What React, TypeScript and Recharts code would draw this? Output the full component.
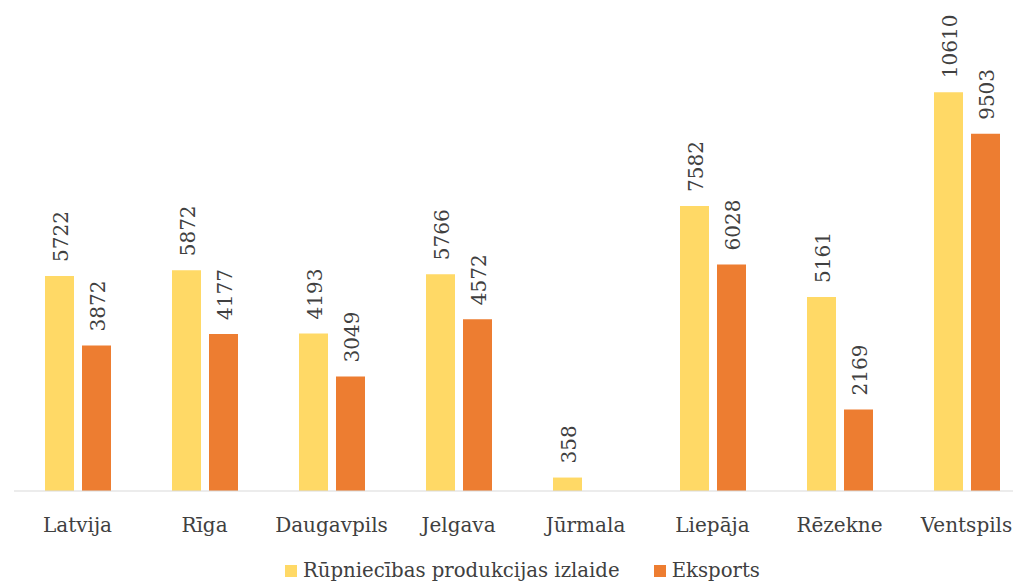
import React from "react";
import { BarChart, Bar, XAxis, YAxis, LabelList } from "recharts";

const categories = ["Latvija", "Rīga", "Daugavpils", "Jelgava", "Jūrmala", "Liepāja", "Rēzekne", "Ventspils"];
const izlaide = [5722, 5872, 4193, 5766, 358, 7582, 5161, 10610];
const eksports: (number | null)[] = [3872, 4177, 3049, 4572, null, 6028, 2169, 9503];
const seriesNames = ["Rūpniecības produkcijas izlaide", "Eksports"];
const colors = ["#FFD966", "#ED7D31"];

const data = categories.map((c, i) => ({ name: c, a: izlaide[i], b: eksports[i] }));

const FONT = "'DejaVu Serif', serif";

const RotLabel = (props: any) => {
  const { x, y, width, value } = props;
  if (value == null || value === 0) return null;
  const cx = x + width / 2 + 1;
  const sy = y - 14;
  return (
    <text
      x={cx}
      y={sy}
      transform={`rotate(-90 ${cx} ${sy})`}
      textAnchor="start"
      dy="0.36em"
      fill="#404040"
      fontSize={20}
      fontFamily={FONT}
    >
      {value}
    </text>
  );
};

export default function App() {
  return (
    <div style={{ position: "absolute", left: 0, top: 0, width: 1013, height: 582, background: "#fff", overflow: "hidden" }}>
      <BarChart
        width={1030}
        height={582}
        data={data}
        margin={{ top: 40, right: 0, left: 14, bottom: 51 }}
        barSize={29}
        barGap={8}
      >
        <XAxis
          dataKey="name"
          axisLine={{ stroke: "#D9D9D9", strokeWidth: 1 }}
          tickLine={false}
          tickSize={0}
          tickMargin={27}
          height={40}
          interval={0}
          tick={{ fill: "#404040", fontSize: 20, fontFamily: FONT }}
        />
        <YAxis hide domain={[0, 12000]} />
        <Bar dataKey="a" fill={colors[0]} isAnimationActive={false}>
          <LabelList dataKey="a" content={RotLabel} />
        </Bar>
        <Bar dataKey="b" fill={colors[1]} isAnimationActive={false}>
          <LabelList dataKey="b" content={RotLabel} />
        </Bar>
      </BarChart>
      <div
        style={{
          position: "absolute",
          left: 285,
          top: 559,
          display: "flex",
          alignItems: "center",
          fontFamily: FONT,
          fontSize: 19.7,
          lineHeight: "24px",
          color: "#404040",
          whiteSpace: "nowrap",
        }}
      >
        {seriesNames.map((n, i) => (
          <div key={n} style={{ display: "flex", alignItems: "center", marginRight: i === 0 ? 34 : 0 }}>
            <span style={{ display: "inline-block", width: 12, height: 12, background: colors[i], marginRight: 6 }} />
            <span>{n}</span>
          </div>
        ))}
      </div>
    </div>
  );
}
